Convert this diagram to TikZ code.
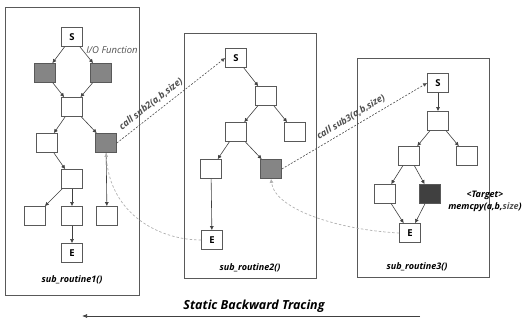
\documentclass[tikz,border=0pt]{standalone}
\usepackage{fontspec}
\setmainfont{Open Sans}
\usetikzlibrary{arrows.meta}
\definecolor{edge}{HTML}{404040}
\definecolor{frame}{HTML}{595959}
\definecolor{midgray}{HTML}{858585}
\definecolor{darkfill}{HTML}{404040}
\definecolor{trace}{HTML}{B0B0B0}
\definecolor{txtgray}{HTML}{505050}
\tikzset{
  blk/.style={draw=frame, line width=0.7pt, fill=white, minimum width=21pt, minimum height=19pt,
    inner sep=0pt, font=\bfseries\fontsize{9.5}{10}\selectfont},
  hot/.style={blk, fill=midgray},
  sink/.style={blk, fill=darkfill},
  flow/.style={draw=edge, line width=0.6pt, -{Latex[length=4pt,width=4pt]}},
  callarrow/.style={draw=txtgray, line width=0.6pt, dash pattern=on 2pt off 1.5pt,
    -{Latex[length=4pt,width=4pt]}},
  backtrace/.style={draw=trace, line width=0.7pt, dash pattern=on 2.5pt off 2pt,
    -{Latex[length=4pt,width=4pt]}},
  routine/.style={draw=frame, line width=0.7pt},
  caption/.style={font=\bfseries\itshape\fontsize{9}{10}\selectfont, text=black},
  calltxt/.style={font=\bfseries\itshape\fontsize{9.3}{10}\selectfont, text=txtgray, inner sep=0pt}
}
\begin{document}
\begin{tikzpicture}[x=1pt,y=-1pt]
\useasboundingbox (0,0) rectangle (527,320);

% routine frames
\draw[routine] (5,7) rectangle (139,295);
\draw[routine] (184,33) rectangle (316,278);
\draw[routine] (357,58) rectangle (489,277);

% sub_routine1 control flow
\node[blk] (a1S) at (72,37) {S};
\node[hot] (a1L) at (45,73) {};
\node[hot] (a1R) at (101,73) {};
\node[blk] (a1M) at (72,107) {};
\node[blk] (a1P) at (47,143) {};
\node[hot] (a1Q) at (106,143) {};
\node[blk] (a1N) at (72,179) {};
\node[blk] (a1X) at (35,216) {};
\node[blk] (a1Y) at (72,216) {};
\node[blk] (a1Z) at (107,216) {};
\node[blk] (a1E) at (72,253) {E};
\node[caption] (a1cap) at (72,280) {sub\_routine1()};
\node[font=\itshape\fontsize{9.5}{10}\selectfont, text=txtgray, inner sep=0pt] (io) at (112,50) {I/O Function};

\draw[flow] (a1S) -- (a1L);
\draw[flow] (a1S) -- (a1R);
\draw[flow] (a1L) -- (a1M);
\draw[flow] (a1R) -- (a1M);
\draw[flow] (a1M) -- (a1P);
\draw[flow] (a1M) -- (a1Q);
\draw[flow] (a1P) -- (a1N);
\draw[flow] (a1N) -- (a1X);
\draw[flow] (a1N) -- (a1Y);
\draw[flow] (a1Y) -- (a1E);
\draw[flow] (a1Q) -- (a1Z);

% sub_routine2 control flow
\node[blk] (b2S) at (236,58) {S};
\node[blk] (b2A) at (266,96) {};
\node[blk] (b2B) at (236,132) {};
\node[blk] (b2C) at (295,132) {};
\node[blk] (b2D) at (211,169) {};
\node[hot] (b2G) at (271,169) {};
\node[blk] (b2E) at (212,240) {E};
\node[caption] (b2cap) at (250,268) {sub\_routine2()};

\draw[flow] (b2S) -- (b2A);
\draw[flow] (b2A) -- (b2B);
\draw[flow] (b2A) -- (b2C);
\draw[flow] (b2B) -- (b2D);
\draw[flow] (b2B) -- (b2G);
\draw[flow] (b2D) -- (b2E);

% sub_routine3 control flow
\node[blk] (c3S) at (438,83) {S};
\node[blk] (c3A) at (438,121) {};
\node[blk] (c3B) at (409,156) {};
\node[blk] (c3C) at (467,156) {};
\node[blk] (c3D) at (385,194) {};
\node[sink] (c3K) at (430,194) {};
\node[blk] (c3E) at (410,233) {E};
\node[caption] (c3cap) at (417,267) {sub\_routine3()};
\node[font=\bfseries\itshape\fontsize{9}{12}\selectfont, align=center, inner sep=0pt] (tgt) at (485,201)
  {<Target>\\memcpy(a,b,{\color{txtgray}size})};

\draw[flow] (c3S) -- (c3A);
\draw[flow] (c3A) -- (c3B);
\draw[flow] (c3A) -- (c3C);
\draw[flow] (c3B) -- (c3D);
\draw[flow] (c3B) -- (c3K);
\draw[flow] (c3D) -- (c3E);
\draw[flow] (c3K) -- (c3E);

% calls between routines
\draw[callarrow] (a1Q.east) -- (b2S.west);
\node[calltxt, rotate=38] (call2) at (151,104) {call sub2(a,b,size)};
\draw[callarrow] (b2G.east) -- (c3S.west);
\node[calltxt, rotate=31] (call3) at (351,117) {call sub3(a,b,size)};

% backward tracing paths
\draw[backtrace] (c3E.west) .. controls (340,230) and (275,210) .. (b2G.south);
\draw[backtrace] (b2E.west) .. controls (160,240) and (110,215) .. (a1Q.south);

% direction of the analysis
\node[font=\bfseries\itshape\fontsize{12.5}{14}\selectfont] (dir) at (254,306) {Static Backward Tracing};
\coordinate (dirR) at (420,316);
\coordinate (dirL) at (82,316);
\draw[draw=edge, line width=0.7pt, -{Latex[length=5pt,width=4pt]}] (dirR) -- (dirL);
\end{tikzpicture}
\end{document}
